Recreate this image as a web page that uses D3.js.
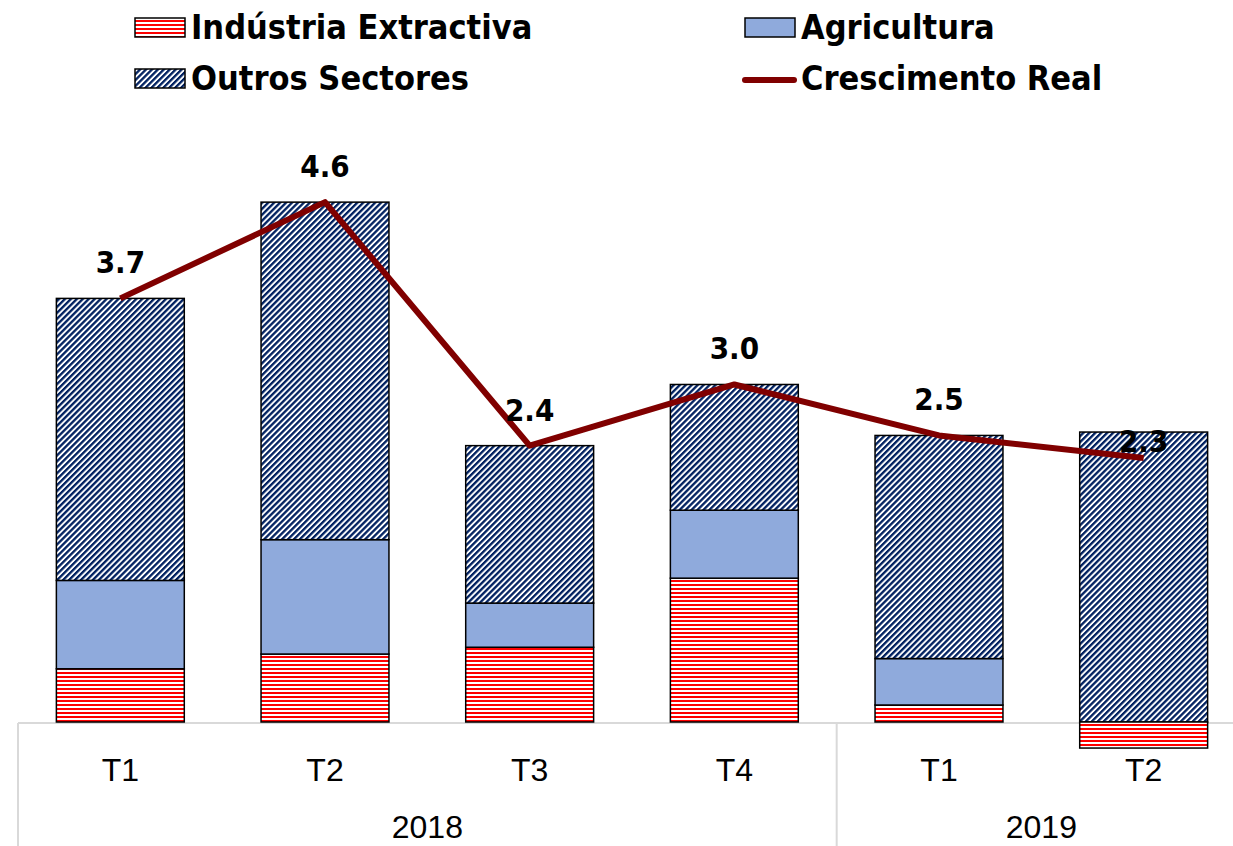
<!DOCTYPE html>
<html>
<head>
<meta charset="utf-8">
<script src="https://cdn.jsdelivr.net/npm/d3@7"></script>
<style>
  body { margin: 0; background: #fff; }
  svg { display: block; }
</style>
</head>
<body>
<div id="chart"></div>
<script>
// quarters and years
var quarters = ["T1", "T2", "T3", "T4", "T1", "T2"];
var years = ["2018", "2018", "2018", "2018", "2019", "2019"];

// contributions (p.p.)
var industria = [0.47, 0.60, 0.66, 1.27, 0.15, -0.23];
var agricultura = [0.78, 1.01, 0.39, 0.60, 0.41, 0.00];
var outros = [2.49, 2.98, 1.39, 1.11, 1.97, 2.56];

// real growth
var crescimento = [3.74, 4.59, 2.44, 2.98, 2.53, 2.33];

var W = 1233, H = 846;

var svg = d3.select("#chart").append("svg")
  .attr("width", W)
  .attr("height", H);

var defs = svg.append("defs");

// red horizontal stripes
var pInd = defs.append("pattern")
  .attr("id", "pInd")
  .attr("patternUnits", "userSpaceOnUse")
  .attr("width", 4).attr("height", 4);
pInd.append("rect").attr("width", 4).attr("height", 4).attr("fill", "#fff");
pInd.append("rect").attr("width", 4).attr("height", 2).attr("fill", "#ff0000");

// navy diagonal stripes
var pOut = defs.append("pattern")
  .attr("id", "pOut")
  .attr("patternUnits", "userSpaceOnUse")
  .attr("width", 4.2).attr("height", 4.2)
  .attr("patternTransform", "rotate(45)");
pOut.append("rect").attr("width", 4.2).attr("height", 4.2).attr("fill", "#fff");
pOut.append("rect").attr("width", 2.3).attr("height", 4.2).attr("fill", "#002060");

var keys = ["ind", "agr", "out"];
var fills = { ind: "url(#pInd)", agr: "#8faadc", out: "url(#pOut)" };

var rows = quarters.map(function(q, i) {
  return { key: years[i] + q, q: q, year: years[i], ind: industria[i], agr: agricultura[i], out: outros[i], total: crescimento[i] };
});

var x = d3.scaleBand()
  .domain(rows.map(function(d) { return d.key; }))
  .range([18, 1246])
  .paddingInner(0.375)
  .paddingOuter(0.1875);

var y = d3.scaleLinear()
  .domain([0, 4.6])
  .range([722, 201]);

var stack = d3.stack()
  .keys(keys)
  .offset(d3.stackOffsetDiverging);

var series = stack(rows);

var bars = svg.append("g");
series.forEach(function(s) {
  bars.selectAll(null)
    .data(s.filter(function(d) { return d[1] - d[0] !== 0; }))
    .enter().append("rect")
      .attr("x", function(d) { return x(d.data.key); })
      .attr("width", x.bandwidth())
      .attr("y", function(d) { return y(Math.max(d[0], d[1])); })
      .attr("height", function(d) { return Math.abs(y(d[0]) - y(d[1])); })
      .attr("fill", fills[s.key])
      .attr("stroke", "#000")
      .attr("stroke-width", 1.5);
});

// category axis frame
var axisCol = "#d9d9d9";
var step = x.step();
var sep = x(rows[4].key) - x.paddingInner() * step / 2;
var x0 = x.range()[0];

var frame = svg.append("g");
frame.append("line")
  .attr("x1", x0).attr("x2", W)
  .attr("y1", y(0) + 1).attr("y2", y(0) + 1)
  .attr("stroke", axisCol).attr("stroke-width", 2);
[x0, sep].forEach(function(xx) {
  frame.append("line")
    .attr("x1", xx).attr("x2", xx)
    .attr("y1", y(0) + 1).attr("y2", H)
    .attr("stroke", axisCol).attr("stroke-width", 2);
});

// the negative part sits over the axis line
bars.raise();
bars.selectAll("rect").filter(function(d) { return d[1] <= 0; }).raise();

// quarter labels
svg.append("g").selectAll("text")
  .data(rows)
  .enter().append("text")
    .attr("x", function(d) { return x(d.key) + x.bandwidth() / 2; })
    .attr("y", 781)
    .attr("text-anchor", "middle")
    .style("font-family", "'Liberation Sans', Arial, sans-serif")
    .style("font-size", "32px")
    .text(function(d) { return d.q; });

// year labels
var yearGroups = d3.groups(rows, function(d) { return d.year; });
svg.append("g").selectAll("text")
  .data(yearGroups)
  .enter().append("text")
    .attr("x", function(g) {
      var first = g[1][0], last = g[1][g[1].length - 1];
      var a = x(first.key) - x.paddingInner() * step / 2;
      var b = x(last.key) + x.bandwidth() + x.paddingInner() * step / 2;
      if (first === rows[0]) a = x0;
      if (last === rows[rows.length - 1]) b = x.range()[1];
      return (a + b) / 2;
    })
    .attr("y", 838)
    .attr("text-anchor", "middle")
    .style("font-family", "'Liberation Sans', Arial, sans-serif")
    .style("font-size", "32px")
    .text(function(g) { return g[0]; });

// growth line
var line = d3.line()
  .x(function(d) { return x(d.key) + x.bandwidth() / 2; })
  .y(function(d) { return y(d.total); });

svg.append("path")
  .datum(rows)
  .attr("d", line)
  .attr("fill", "none")
  .attr("stroke", "#800000")
  .attr("stroke-width", 6)
  .attr("stroke-linejoin", "round");

// data labels
var fmt = d3.format(".1f");
svg.append("g").selectAll("text")
  .data(rows)
  .enter().append("text")
    .attr("x", function(d) { return x(d.key) + x.bandwidth() / 2; })
    .attr("y", function(d, i) { return y(d.total) - (i === rows.length - 1 ? 6 : 25); })
    .attr("text-anchor", "middle")
    .style("font-family", "'DejaVu Sans Condensed', 'DejaVu Sans', sans-serif")
    .style("font-weight", "bold")
    .style("font-size", "31px")
    .text(function(d) { return fmt(d.total); });

// legend
var legend = [
  { name: "Indústria Extractiva", type: "ind", lx: 135, ly: 27 },
  { name: "Agricultura", type: "agr", lx: 745, ly: 27 },
  { name: "Outros Sectores", type: "out", lx: 135, ly: 78 },
  { name: "Crescimento Real", type: "line", lx: 745, ly: 78 }
];

var lg = svg.append("g");
legend.forEach(function(l) {
  if (l.type === "line") {
    lg.append("line")
      .attr("x1", l.lx).attr("x2", l.lx + 49)
      .attr("y1", l.ly + 2).attr("y2", l.ly + 2)
      .attr("stroke", "#800000").attr("stroke-width", 6)
      .attr("stroke-linecap", "round");
  } else {
    lg.append("rect")
      .attr("x", l.lx).attr("y", l.ly - 9)
      .attr("width", 50).attr("height", 19)
      .attr("fill", fills[l.type])
      .attr("stroke", "#000").attr("stroke-width", 1.5);
  }
  lg.append("text")
    .attr("x", l.lx + 56)
    .attr("y", l.ly + 12)
    .style("font-family", "'DejaVu Sans Condensed', 'DejaVu Sans', sans-serif")
    .style("font-weight", "bold")
    .style("font-size", "34px")
    .text(l.name);
});
</script>
</body>
</html>
